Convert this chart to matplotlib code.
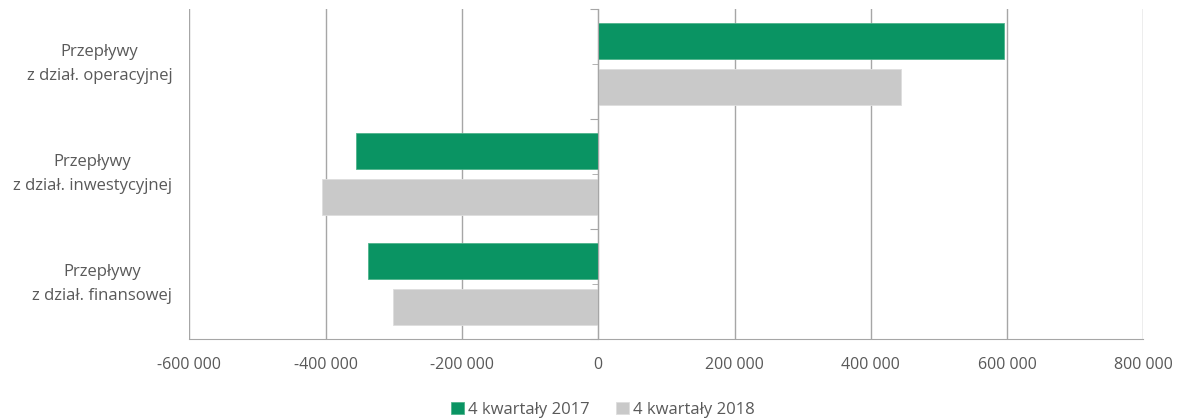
import matplotlib.pyplot as plt
import matplotlib.transforms as mtrans
from matplotlib.ticker import FuncFormatter

# data
categories = ['Przepływy\nz dział. operacyjnej',
              'Przepływy\nz dział. inwestycyjnej',
              'Przepływy\nz dział. finansowej']
series_names = ['4 kwartały 2017', '4 kwartały 2018']
values_2017 = [595000, -355000, -338000]
values_2018 = [444000, -405000, -301000]

green = '#0a9463'
grey = '#c9c9c9'
text_col = '#595959'
line_col = '#a6a6a6'

plt.rcParams['font.family'] = ['Open Sans', 'DejaVu Sans']

fig = plt.figure(figsize=(11.78, 4.19), dpi=100)
ax = fig.add_axes([0.1607, 0.19, 0.81, 0.7885])

ypos = list(range(len(categories)))
off = 0.209
h = 0.327
ax.barh([y - off for y in ypos], values_2017, height=h, color=green,
        edgecolor='#4fb48c', linewidth=0.6, label=series_names[0], zorder=3)
ax.barh([y + off for y in ypos], values_2018, height=h, color=grey,
        edgecolor='#dedede', linewidth=0.6, label=series_names[1], zorder=3)

ax.set_xlim(-600000, 800000)
ax.set_ylim(2.5, -0.5)
ax.set_xticks(range(-600000, 800001, 200000))
ax.xaxis.set_major_formatter(FuncFormatter(lambda v, p: f'{int(v):,}'.replace(',', ' ')))
ax.tick_params(axis='x', length=0, pad=13, labelsize=11.5, labelcolor=text_col)
ax.grid(axis='x', color=line_col, linewidth=1, zorder=0)

# category axis sits at zero
ax.spines['left'].set_position(('data', 0))
ax.spines['left'].set_color(line_col)
ax.spines['left'].set_zorder(4)
ax.spines['bottom'].set_color(line_col)
ax.spines['top'].set_visible(False)
ax.spines['right'].set_visible(False)
ax.set_yticks([-0.5, 0.5, 1.5, 2.5])
ax.set_yticks(ypos, minor=True)
ax.set_yticklabels([])
ax.tick_params(axis='y', which='major', length=6, color=line_col, direction='out')
ax.tick_params(axis='y', which='minor', length=4, color=line_col, direction='out')

trans = mtrans.blended_transform_factory(ax.transAxes, ax.transData)
for y, lab in zip(ypos, categories):
    ax.text(-0.018, y, lab, transform=trans, ha='right', va='center',
            multialignment='center', fontsize=12, color=text_col, linespacing=1.65)

fig.legend(loc='center', bbox_to_anchor=(0.512, 0.022), ncol=2, frameon=False,
           fontsize=12, labelcolor=text_col, handlelength=0.75, handleheight=0.75,
           handletextpad=0.25, columnspacing=1.6)

fig.savefig('out.png', dpi=100)
